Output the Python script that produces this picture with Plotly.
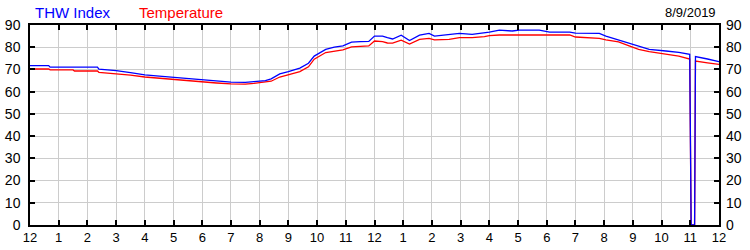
import plotly.graph_objects as go

# time of day in hours (0 = midnight, 24 = next midnight)
hours = [0, 0.65, 0.7, 1.5, 1.55, 2.35, 2.4, 3.0, 3.5, 4.0, 4.5, 5.0, 5.5, 6.0, 6.5,
         7.0, 7.5, 7.8, 8.2, 8.4, 8.7, 9.0, 9.4, 9.7, 9.9, 10.3, 10.6, 10.9, 11.2,
         11.5, 11.8, 12.0, 12.28, 12.45, 12.63, 12.93, 13.22, 13.57, 13.9, 14.09,
         14.6, 14.96, 15.4, 15.83, 16.0, 16.35, 16.8, 17.04, 17.74, 18.1, 18.8,
         19.0, 19.83, 20.06, 20.5, 20.87, 21.2, 21.57, 22.15, 22.6, 22.98, 23.03,
         23.15, 23.18, 23.6, 24.0]

thw_index = [71.7, 71.7, 71.0, 71.0, 71.0, 71.0, 70.1, 69.5, 68.6, 67.6, 67.0, 66.4,
             65.9, 65.3, 64.8, 64.3, 64.2, 64.5, 65.0, 65.8, 68.0, 69.0, 70.6, 72.8,
             76.0, 79.0, 80.0, 80.6, 82.3, 82.5, 82.6, 85.0, 85.0, 84.3, 83.7, 85.4,
             83.0, 85.4, 86.2, 85.0, 85.7, 86.2, 85.8, 86.5, 86.8, 87.7, 87.3, 87.7,
             87.7, 86.8, 86.8, 86.3, 86.2, 85.0, 83.3, 82.0, 80.5, 79.0, 78.3, 77.7,
             76.8, 0, 0, 75.8, 74.7, 73.5]

temperature = [70.2, 70.2, 69.8, 69.8, 69.3, 69.3, 68.7, 68.1, 67.4, 66.6, 66.0, 65.6,
               65.0, 64.5, 63.9, 63.5, 63.4, 63.7, 64.3, 64.7, 66.6, 67.5, 69.0, 71.2,
               74.6, 77.6, 78.3, 78.8, 80.2, 80.4, 80.6, 82.8, 82.5, 81.9, 81.8, 83.2,
               81.4, 83.5, 84.0, 83.3, 83.5, 84.3, 84.3, 84.8, 85.2, 85.5, 85.5, 85.5,
               85.8, 85.5, 85.5, 84.6, 84.0, 83.3, 82.4, 80.6, 79.0, 78.0, 77.0, 76.0,
               74.7, 0, 0, 73.8, 73.0, 72.3]

tick_hours = list(range(0, 25))
tick_labels = ["12", "1", "2", "3", "4", "5", "6", "7", "8", "9", "10", "11",
               "12", "1", "2", "3", "4", "5", "6", "7", "8", "9", "10", "11", "12"]
y_ticks = [0, 10, 20, 30, 40, 50, 60, 70, 80, 90]
date_label = "8/9/2019"

FONT = "Liberation Sans, Arial, sans-serif"

fig = go.Figure()
fig.add_trace(go.Scatter(x=hours, y=temperature, mode="lines", name="Temperature",
                         line=dict(color="#ff0000", width=1.3), showlegend=False))
fig.add_trace(go.Scatter(x=hours, y=thw_index, mode="lines", name="THW Index",
                         line=dict(color="#0000ff", width=1.3), showlegend=False))
# invisible trace to anchor the right-hand axis
fig.add_trace(go.Scatter(x=[None], y=[None], yaxis="y2", showlegend=False, hoverinfo="skip"))

fig.update_layout(
    width=750, height=250,
    margin=dict(l=30, r=31, t=25, b=25),
    paper_bgcolor="white", plot_bgcolor="white",
    font=dict(family=FONT, size=14, color="black"),
    xaxis=dict(range=[0, 24], tickmode="array", tickvals=tick_hours, ticktext=tick_labels,
               showgrid=True, gridcolor="#cccccc", gridwidth=1,
               showline=True, linecolor="black", linewidth=1.5, mirror="ticks",
               ticks="inside", ticklen=5, tickcolor="black", tickwidth=1.5,
               tickfont=dict(size=13),
               zeroline=False, ticklabelstandoff=0, automargin=False),
    yaxis=dict(range=[0, 90], tickmode="array", tickvals=y_ticks,
               showgrid=True, gridcolor="#cccccc", gridwidth=1,
               showline=True, linecolor="black", linewidth=1.5, mirror=True,
               ticks="inside", ticklen=5, tickcolor="black", tickwidth=1.5,
               zeroline=False, ticklabelstandoff=5, automargin=False),
    yaxis2=dict(range=[0, 90], tickmode="array", tickvals=y_ticks, overlaying="y",
                side="right", showgrid=False, showline=False, zeroline=False,
                ticks="inside", ticklen=5, tickcolor="black", tickwidth=1.5,
                ticklabelstandoff=6, automargin=False),
    annotations=[
        dict(text="THW Index", x=33, y=12, xref="paper", yref="paper", showarrow=False,
             font=dict(color="#0000ff", size=15, family=FONT), xanchor="left", yanchor="middle"),
        dict(text="Temperature", x=137, y=12, xref="paper", yref="paper", showarrow=False,
             font=dict(color="#ff0000", size=15, family=FONT), xanchor="left", yanchor="middle"),
        dict(text=date_label, x=718, y=12, xref="paper", yref="paper", showarrow=False,
             font=dict(color="black", size=13, family=FONT), xanchor="right", yanchor="middle"),
    ],
)

# convert annotation pixel positions to paper coordinates
pw = 750 - 30 - 31
ph = 250 - 25 - 25
new_ann = []
for a in fig.layout.annotations:
    a.x = (a.x - 30) / pw
    a.y = (250 - 25 - a.y) / ph
    new_ann.append(a)
fig.layout.annotations = new_ann

fig.write_html("out.html")
